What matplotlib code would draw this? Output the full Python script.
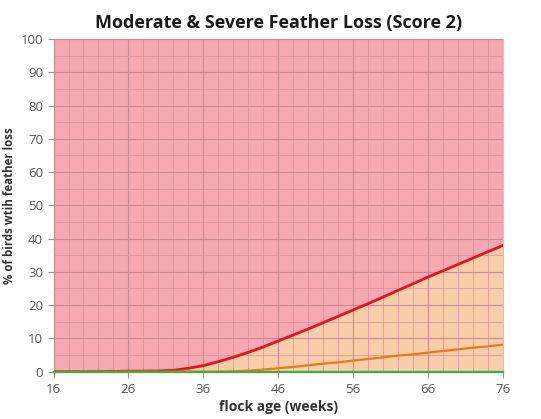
import numpy as np
import matplotlib.pyplot as plt
from matplotlib.ticker import MultipleLocator

# flock age in weeks (every 2 weeks)
weeks = [16, 18, 20, 22, 24, 26, 28, 30, 32, 34, 36, 38, 40, 42, 44, 46,
         48, 50, 52, 54, 56, 58, 60, 62, 64, 66, 68, 70, 72, 74, 76]

# % of birds with moderate & severe feather loss
upper_pct = [0.0, 0.0, 0.0, 0.05, 0.1, 0.15, 0.15, 0.2, 0.4, 1.0, 1.8, 3.0,
             4.3, 5.8, 7.4, 9.2, 11.0, 12.8, 14.7, 16.6, 18.5, 20.4, 22.4,
             24.4, 26.4, 28.4, 30.3, 32.2, 34.1, 36.0, 37.9]
middle_pct = [0.0, 0.0, 0.0, 0.0, 0.0, 0.0, 0.0, 0.0, 0.0, 0.0, 0.0, 0.0,
              0.1, 0.3, 0.6, 1.0, 1.4, 1.9, 2.4, 2.8, 3.3, 3.8, 4.3, 4.8,
              5.2, 5.7, 6.2, 6.7, 7.2, 7.6, 8.1]
lower_pct = [0.0] * len(weeks)

x_ticks = [16, 26, 36, 46, 56, 66, 76]
y_ticks = [0, 10, 20, 30, 40, 50, 60, 70, 80, 90, 100]

plt.rcParams['font.family'] = ['Open Sans', 'DejaVu Sans']

fig = plt.figure(figsize=(5.41, 4.19), dpi=100)
ax = fig.add_axes([0.099, 0.113, 0.830, 0.794])

# background zones
ax.set_facecolor("#F6A9B1")
ax.fill_between(weeks, 0, upper_pct, color="#F9CDA9", linewidth=0, zorder=1)

# grid: minor every 2 weeks / 5 %, major every 10
ax.xaxis.set_major_locator(MultipleLocator(10))
ax.xaxis.set_minor_locator(MultipleLocator(2))
ax.yaxis.set_minor_locator(MultipleLocator(5))
ax.grid(which="minor", color="#D48E98", linewidth=0.6, alpha=0.8, zorder=2)
ax.grid(which="major", color="#C4848E", linewidth=0.8, alpha=0.9, zorder=2)
ax.set_axisbelow(False)

ax.plot(weeks, upper_pct, color="#E0161E", linewidth=2.0, zorder=4)
ax.plot(weeks, middle_pct, color="#E47A1C", linewidth=1.6, zorder=4)
ax.plot(weeks, lower_pct, color="#3CAF3C", linewidth=1.6, zorder=5,
        clip_on=False)

ax.set_xlim(16, 76)
ax.set_ylim(0, 100)
ax.set_xticks(x_ticks)
ax.set_yticks(y_ticks)
ax.tick_params(which="both", colors="#9A9A9A", labelcolor="#555555",
               labelsize=9.5, length=4)
ax.tick_params(which="minor", length=0)
ax.tick_params(axis="x", pad=4)

for side in ["top", "right"]:
    ax.spines[side].set_color("#C8B8B8")
    ax.spines[side].set_linewidth(0.6)
for side in ["left", "bottom"]:
    ax.spines[side].set_color("#B0B0B0")
    ax.spines[side].set_linewidth(0.8)

ax.set_title("Moderate & Severe Feather Loss (Score 2)", fontsize=13,
             fontweight="bold", color="#1A1A1A", pad=8)
ax.set_xlabel("flock age (weeks)", fontsize=10, fontweight="bold",
              color="#333333", labelpad=3)
fig.text(0.017, 0.51, "% of birds wtih feather loss", fontsize=8.3,
         fontweight="bold", color="#333333", rotation=90,
         ha="center", va="center")

fig.savefig("out.png", dpi=100)
